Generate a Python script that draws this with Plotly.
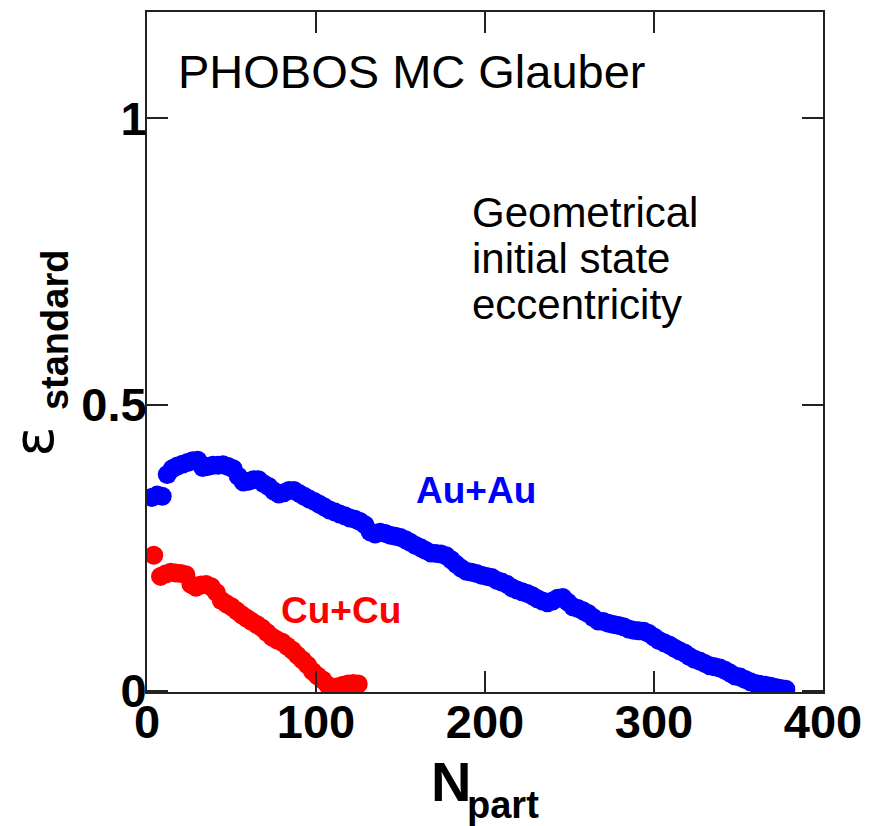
import plotly.graph_objects as go

# ---- data ----
auau_npart = [3, 6, 9, 12, 15, 18, 21, 24, 27, 30, 33, 36, 39, 42, 45, 48, 51, 54, 57, 60,
              63, 66, 69, 72, 75, 78, 81, 84, 87, 90, 93, 96, 99, 102, 105, 108, 111, 114, 117, 120,
              123, 126, 129, 132, 135, 138, 141, 144, 147, 150, 153, 156, 159, 162, 165, 168, 171, 174, 177, 180,
              183, 186, 189, 192, 195, 198, 201, 204, 207, 210, 213, 216, 219, 222, 225, 228, 231, 234, 237, 240,
              243, 246, 249, 252, 255, 258, 261, 264, 267, 270, 273, 276, 279, 282, 285, 288, 291, 294, 297, 300,
              303, 306, 309, 312, 315, 318, 321, 324, 327, 330, 333, 336, 339, 342, 345, 348, 351, 354, 357, 360,
              363, 366, 369, 372, 375, 378]
auau_ecc = [0.338, 0.342, 0.340, 0.378, 0.388, 0.393, 0.396, 0.399, 0.402, 0.403, 0.390, 0.392, 0.394, 0.394, 0.395, 0.392, 0.388, 0.375, 0.365, 0.366,
            0.369, 0.369, 0.362, 0.357, 0.349, 0.344, 0.346, 0.350, 0.350, 0.345, 0.340, 0.335, 0.331, 0.326, 0.321, 0.316, 0.313, 0.309, 0.306, 0.302,
            0.300, 0.296, 0.290, 0.278, 0.274, 0.277, 0.275, 0.272, 0.270, 0.268, 0.264, 0.259, 0.254, 0.250, 0.245, 0.241, 0.240, 0.239, 0.236, 0.229,
            0.221, 0.214, 0.209, 0.207, 0.205, 0.202, 0.200, 0.198, 0.193, 0.190, 0.186, 0.180, 0.176, 0.173, 0.170, 0.166, 0.161, 0.157, 0.154, 0.157,
            0.162, 0.163, 0.155, 0.147, 0.144, 0.140, 0.135, 0.128, 0.122, 0.121, 0.118, 0.116, 0.114, 0.112, 0.108, 0.106, 0.105, 0.104, 0.100, 0.094,
            0.088, 0.084, 0.080, 0.075, 0.070, 0.066, 0.060, 0.055, 0.052, 0.048, 0.044, 0.042, 0.040, 0.036, 0.031, 0.026, 0.024, 0.020, 0.016, 0.013,
            0.011, 0.010, 0.008, 0.006, 0.004, 0.003]

cucu_npart = [4, 8, 11, 14, 17, 20, 23, 26, 29, 32, 35, 38, 41, 44, 47, 50, 53, 56, 59, 62,
              65, 68, 71, 74, 77, 80, 83, 86, 89, 92, 95, 98, 101, 104, 107, 110, 113, 116, 119, 122, 125]
cucu_ecc = [0.237, 0.200, 0.204, 0.207, 0.206, 0.205, 0.203, 0.186, 0.181, 0.185, 0.186, 0.182, 0.172, 0.158, 0.152, 0.147, 0.140, 0.133, 0.127, 0.121,
            0.116, 0.110, 0.102, 0.094, 0.089, 0.085, 0.078, 0.071, 0.062, 0.054, 0.045, 0.034, 0.026, 0.019, 0.010, 0.006, 0.007, 0.010, 0.012, 0.013, 0.012]

x_ticks = [0, 100, 200, 300, 400]
y_ticks = [0, 0.5, 1]
y_tick_text = ["0", "0.5", "1"]

FONT = "Liberation Sans, Arial, Helvetica, sans-serif"

fig = go.Figure()
fig.add_trace(go.Scatter(x=auau_npart, y=auau_ecc, mode="markers",
                         marker=dict(symbol="circle", size=19, color="#0000ff", line=dict(width=0)),
                         name="Au+Au", showlegend=False))
fig.add_trace(go.Scatter(x=cucu_npart, y=cucu_ecc, mode="markers",
                         marker=dict(symbol="circle", size=19, color="#ff0000", line=dict(width=0)),
                         name="Cu+Cu", showlegend=False))

W, H = 872, 826
L, R, T, B = 147, 49, 10, 134
pw, ph = W - L - R, H - T - B


def px(xp):
    return (xp - L) / pw


def py(yp):
    return (H - B - yp) / ph


annotations = [
    dict(text="PHOBOS MC Glauber", x=px(176), y=py(70), xanchor="left", yanchor="middle",
         font=dict(family=FONT, size=47, color="black")),
    dict(text="Geometrical", x=px(470), y=py(211), xanchor="left", yanchor="middle",
         font=dict(family=FONT, size=42, color="black")),
    dict(text="initial state", x=px(470), y=py(257), xanchor="left", yanchor="middle",
         font=dict(family=FONT, size=42, color="black")),
    dict(text="eccentricity", x=px(470), y=py(303), xanchor="left", yanchor="middle",
         font=dict(family=FONT, size=42, color="black")),
    dict(text="Au+Au", x=px(414), y=py(490), xanchor="left", yanchor="middle",
         font=dict(family=FONT, size=37, color="#0000ff", weight="bold")),
    dict(text="Cu+Cu", x=px(279), y=py(610), xanchor="left", yanchor="middle",
         font=dict(family=FONT, size=37, color="#ff0000", weight="bold")),
    # y-axis title: epsilon with subscript "standard"
    dict(text="ε", x=px(34), y=py(441), xanchor="center", yanchor="middle", textangle=-90,
         font=dict(family="DejaVu Sans, sans-serif", size=56, color="black")),
    dict(text="standard", x=px(55), y=py(329), xanchor="center", yanchor="middle", textangle=-90,
         font=dict(family=FONT, size=38, color="black", weight="bold")),
    # x-axis title: N with subscript "part"
    dict(text="N", x=px(451), y=py(782), xanchor="center", yanchor="middle",
         font=dict(family=FONT, size=56, color="black", weight="bold")),
    dict(text="part", x=px(503), y=py(805), xanchor="center", yanchor="middle",
         font=dict(family=FONT, size=38, color="black", weight="bold")),
]
for a in annotations:
    a.update(xref="paper", yref="paper", showarrow=False)

axis_common = dict(showline=True, linecolor="#222222", linewidth=2, mirror="ticks",
                   ticks="inside", ticklen=21, tickwidth=2, tickcolor="#222222",
                   showgrid=False, zeroline=False,
                   tickfont=dict(family=FONT, size=47, color="black", weight="bold"))

fig.update_layout(
    width=W, height=H,
    margin=dict(l=L, r=R, t=T, b=B, pad=0),
    paper_bgcolor="white", plot_bgcolor="white",
    xaxis=dict(range=[0, 400], tickvals=x_ticks, ticktext=[str(v) for v in x_ticks],
               ticklabelstandoff=-12, **axis_common),
    yaxis=dict(range=[-0.002, 1.186], tickvals=y_ticks, ticktext=y_tick_text,
               ticklabelstandoff=-11, **axis_common),
    annotations=annotations,
)

fig.write_html("out.html")
